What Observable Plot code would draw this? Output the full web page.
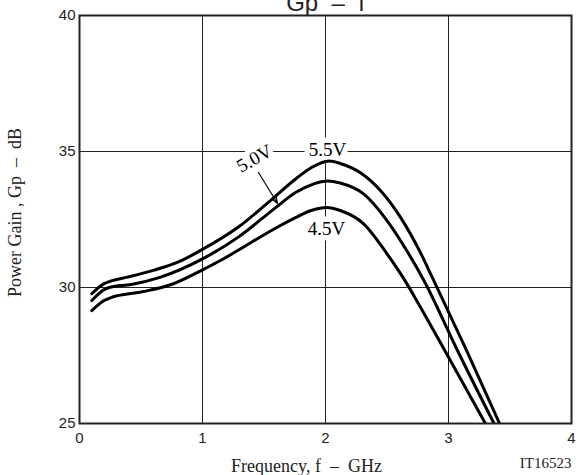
<!DOCTYPE html>
<html>
<head>
<meta charset="utf-8">
<script src="https://cdn.jsdelivr.net/npm/d3@7"></script>
<script src="https://cdn.jsdelivr.net/npm/@observablehq/plot@0.6"></script>
<style>
  html, body { margin: 0; padding: 0; background: white; }
</style>
</head>
<body>
<div id="chart"></div>
<script>
// Data (frequency in GHz, power gain in dB)
const freq55 = [0.10, 0.20, 0.25, 0.39, 0.60, 0.80, 1.00, 1.30, 1.54, 1.76, 1.89, 2.03, 2.12, 2.29, 2.45, 2.61, 2.77, 2.87, 3.14, 3.415];
const gain55 = [29.77, 30.14, 30.23, 30.38, 30.63, 30.93, 31.40, 32.25, 33.15, 34.00, 34.42, 34.65, 34.56, 34.20, 33.55, 32.58, 31.30, 30.35, 27.75, 25.0];

const freq50 = [0.10, 0.20, 0.25, 0.42, 0.66, 1.00, 1.30, 1.59, 1.76, 2.02, 2.12, 2.31, 2.50, 2.66, 2.80, 3.08, 3.37];
const gain50 = [29.52, 29.92, 30.01, 30.11, 30.38, 31.05, 31.88, 32.92, 33.50, 33.92, 33.84, 33.44, 32.46, 31.36, 30.26, 27.62, 25.0];

const freq45 = [0.10, 0.20, 0.25, 0.52, 0.74, 1.00, 1.15, 1.30, 1.59, 1.76, 1.89, 2.01, 2.12, 2.31, 2.50, 2.64, 2.75, 2.98, 3.30];
const gain45 = [29.15, 29.52, 29.62, 29.85, 30.10, 30.65, 31.00, 31.40, 32.17, 32.58, 32.84, 32.94, 32.83, 32.34, 31.24, 30.30, 29.45, 27.60, 25.0];

const xTicks = [0, 1, 2, 3, 4];
const yTicks = [25, 30, 35, 40];

// Curve annotations
const labelText = ["5.5V", "5.0V", "4.5V"];
const labelFreq = [2.016, 1.423, 2.008];
const labelGain = [35.07, 34.74, 32.15];
const labelRotate = [0, -29, 0];

const arrowFrom = [1.455, 34.23];
const arrowTo = [1.61, 33.09];

const rows = [
  ...freq55.map((f, i) => ({series: "5.5V", f, g: gain55[i]})),
  ...freq50.map((f, i) => ({series: "5.0V", f, g: gain50[i]})),
  ...freq45.map((f, i) => ({series: "4.5V", f, g: gain45[i]}))
];
const labels = labelText.map((t, i) => ({t, f: labelFreq[i], g: labelGain[i], r: labelRotate[i]}));

const serif = "'Liberation Serif', 'Times New Roman', Times, serif";
const sans = "'Liberation Sans', Arial, Helvetica, sans-serif";

const chart = Plot.plot({
  width: 576,
  height: 475,
  marginLeft: 79,
  marginRight: 5,
  marginTop: 15,
  marginBottom: 52,
  style: {fontFamily: sans, fontSize: "15px", color: "#222", background: "white", overflow: "hidden"},
  x: {domain: [0, 4], ticks: xTicks, tickSize: 0, tickPadding: 9, label: null, tickFormat: d => String(d)},
  y: {domain: [25, 40], ticks: yTicks, tickSize: 0, tickPadding: 4, label: null, tickFormat: d => String(d)},
  marks: [
    Plot.gridX([1, 2, 3], {stroke: "#222", strokeOpacity: 1, strokeWidth: 1}),
    Plot.gridY([30, 35], {stroke: "#222", strokeOpacity: 1, strokeWidth: 1}),
    Plot.text(labels, {x: "f", y: "g", text: "t", rotate: "r", fontFamily: serif, fontSize: 19,
      fill: "black", stroke: "white", strokeWidth: 11, lineAnchor: "middle", textAnchor: "middle"}),
    Plot.line(rows, {x: "f", y: "g", z: "series", stroke: "black", strokeWidth: 3, curve: "monotone-x", clip: true}),
    Plot.frame({stroke: "#222", strokeWidth: 2}),
    Plot.arrow([{x1: arrowFrom[0], y1: arrowFrom[1], x2: arrowTo[0], y2: arrowTo[1]}],
      {x1: "x1", y1: "y1", x2: "x2", y2: "y2", stroke: "black", strokeWidth: 1.2, headLength: 9, headAngle: 40}),
    // Title (partly cut off at the top, as in the reference)
    Plot.text(["Gp  –  f"], {frameAnchor: "top", dy: -5, lineAnchor: "bottom", fontSize: 24, fontFamily: sans, fill: "#222"}),
    // Axis titles
    Plot.text(["Frequency, f  –  GHz"], {frameAnchor: "bottom", dx: -19, dy: 48, lineAnchor: "bottom", fontSize: 18, fontFamily: serif, fill: "#222"}),
    Plot.text(["Power Gain , Gp  –  dB"], {frameAnchor: "left", dx: -64, dy: -7, rotate: -90, textAnchor: "middle", lineAnchor: "middle", fontSize: 18, fontFamily: serif, fill: "#222"}),
    Plot.text(["IT16523"], {frameAnchor: "bottom-right", dy: 44, textAnchor: "end", lineAnchor: "bottom", fontSize: 15, fontFamily: serif, fill: "#222"})
  ]
});
document.getElementById("chart").appendChild(chart);
</script>
</body>
</html>
